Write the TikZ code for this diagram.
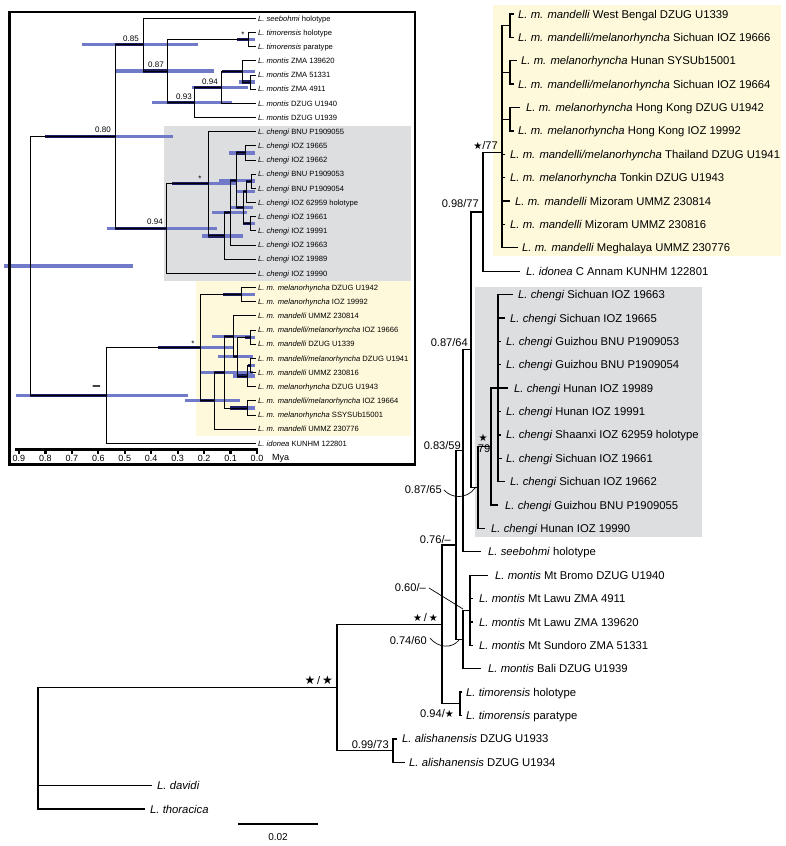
\documentclass[tikz,border=0pt]{standalone}
\usepackage{fontspec}
\setmainfont{Liberation Sans}
\newfontfamily\djv{DejaVu Sans}
\definecolor{yel}{RGB}{254,249,218}
\definecolor{gry}{RGB}{221,222,224}
\definecolor{hpdc}{RGB}{112,122,200}
\definecolor{navy}{RGB}{28,30,100}
\newcommand\stsym{{\djv\fontsize{10}{10}\selectfont ★}}
\newcommand\bigst{{\djv\fontsize{12}{12}\selectfont ★}}
\newcommand\hpd[5]{\draw[hpdbar] (#2,#1) -- (#3,#1); \draw[hpdnavy] ({max(#2,#4)},#1) -- (#5,#1);}
\tikzset{
  br/.style={line width=1.3pt},
  ib/.style={line width=0.9pt},
  hpdbar/.style={line width=3.2pt, draw=hpdc},
  hpdnavy/.style={line width=3.2pt, draw=navy},
  lab/.style={font=\fontsize{11.3}{13}\selectfont, anchor=west, inner sep=0pt, text height=8.3pt, text depth=0.3pt},
  suplab/.style={font=\fontsize{11.1}{13}\selectfont, anchor=east, inner sep=0pt, text height=8.3pt, text depth=0.3pt},
  ilab/.style={font=\fontsize{7.6}{9}\selectfont, anchor=west, inner sep=0pt, text height=5.6pt, text depth=0.2pt},
  isup/.style={font=\fontsize{8}{9}\selectfont, inner sep=0pt, text height=5.8pt, text depth=0.2pt},
  thin/.style={line width=0.7pt}
}
\begin{document}
\begin{tikzpicture}[x=1pt,y=-1pt]
\useasboundingbox (0,0) rectangle (786,846);
% ---------------- main tree backgrounds
\fill[yel] (493,5) rectangle (781,256);
\fill[gry] (475,287) rectangle (702,537);
% ---------------- main tree nodes
\coordinate (N12) at (510,25.7);
\coordinate (N34) at (510,72.5);
\coordinate (N56) at (510,119.2);
\coordinate (Nmand) at (502,152.8);
\coordinate (Nmi) at (483,212.0);
\coordinate (Cc) at (498,388.1);
\coordinate (Bb) at (491,446.6);
\coordinate (Aa) at (478,487.5);
\coordinate (Nmic) at (471,349.8);
\coordinate (Dd) at (463,450.8);
\coordinate (Gg) at (470,610.3);
\coordinate (Ff) at (463,639.5);
\coordinate (Ee) at (456,545.1);
\coordinate (Tt) at (460,703.8);
\coordinate (Hh) at (442,624.5);
\coordinate (Kk) at (393,750.6);
\coordinate (Ii) at (337,687.5);
\coordinate (Rr) at (38,748);
% tips
\coordinate (t1) at (514,14.0);
\coordinate (t2) at (514,37.4);
\coordinate (t3) at (517,60.8);
\coordinate (t4) at (514,84.1);
\coordinate (t5) at (520,107.5);
\coordinate (t6) at (514,130.9);
\coordinate (t7) at (505,154.3);
\coordinate (t8) at (505,177.7);
\coordinate (t9) at (510,201.0);
\coordinate (t10) at (505,224.4);
\coordinate (t11) at (518,247.8);
\coordinate (t12) at (520,271.2);
\coordinate (t13) at (513,294.6);
\coordinate (t14) at (505,318.0);
\coordinate (t15) at (501,341.3);
\coordinate (t16) at (501,364.7);
\coordinate (t17) at (508,388.1);
\coordinate (t18) at (501,411.5);
\coordinate (t19) at (501,434.9);
\coordinate (t20) at (502,458.3);
\coordinate (t21) at (505,481.6);
\coordinate (t22) at (498,505.0);
\coordinate (t23) at (485,528.4);
\coordinate (t24) at (481,551.8);
\coordinate (t25) at (488,575.2);
\coordinate (t26) at (473,598.6);
\coordinate (t27) at (473,622.0);
\coordinate (t28) at (473,645.3);
\coordinate (t29) at (481,668.7);
\coordinate (t30) at (462,692.1);
\coordinate (t31) at (462,715.5);
\coordinate (t32) at (397,738.9);
\coordinate (t33) at (405,762.3);
\coordinate (t34) at (152,785.6);
\coordinate (t35) at (145,809.0);
\foreach \p/\c in {N12/t1,N12/t2,N34/t3,N34/t4,N56/t5,N56/t6,
  Nmand/N12,Nmand/N34,Nmand/N56,Nmand/t7,Nmand/t8,Nmand/t9,Nmand/t10,Nmand/t11,
  Nmi/Nmand,Nmi/t12,
  Cc/t13,Cc/t14,Cc/t15,Cc/t16,Cc/t17,Cc/t18,Cc/t19,Cc/t20,Cc/t21,
  Bb/Cc,Bb/t22,Aa/Bb,Aa/t23,Nmic/Nmi,Nmic/Aa,Dd/Nmic,Dd/t24,
  Gg/t25,Gg/t26,Gg/t27,Gg/t28,Ff/Gg,Ff/t29,Ee/Dd,Ee/Ff,
  Tt/t30,Tt/t31,Hh/Ee,Hh/Tt,Kk/t32,Kk/t33,Ii/Hh,Ii/Kk,Rr/Ii,Rr/t34,Rr/t35}
  \draw[br] (\p) |- (\c);
% labels
\node[lab] (l1) at (518,14.0) {\textit{L. m. mandelli} West Bengal DZUG U1339};
\node[lab] (l2) at (518,37.4) {\textit{L. m. mandelli/melanorhyncha} Sichuan IOZ 19666};
\node[lab] (l3) at (521,60.8) {\textit{L. m. melanorhyncha} Hunan SYSUb15001};
\node[lab] (l4) at (518,84.1) {\textit{L. m. mandelli/melanorhyncha} Sichuan IOZ 19664};
\node[lab] (l5) at (526,107.5) {\textit{L. m. melanorhyncha} Hong Kong DZUG U1942};
\node[lab] (l6) at (518,130.9) {\textit{L. m. melanorhyncha} Hong Kong IOZ 19992};
\node[lab] (l7) at (510,154.3) {\textit{L. m. mandelli/melanorhyncha} Thailand DZUG U1941};
\node[lab] (l8) at (510,177.7) {\textit{L. m. melanorhyncha} Tonkin DZUG U1943};
\node[lab] (l9) at (515,201.0) {\textit{L. m. mandelli} Mizoram UMMZ 230814};
\node[lab] (l10) at (510,224.4) {\textit{L. m. mandelli} Mizoram UMMZ 230816};
\node[lab] (l11) at (522,247.8) {\textit{L. m. mandelli} Meghalaya UMMZ 230776};
\node[lab] (l12) at (526,271.2) {\textit{L. idonea} C Annam KUNHM 122801};
\node[lab] (l13) at (518,294.6) {\textit{L. chengi} Sichuan IOZ 19663};
\node[lab] (l14) at (510,318.0) {\textit{L. chengi} Sichuan IOZ 19665};
\node[lab] (l15) at (506,341.3) {\textit{L. chengi} Guizhou BNU P1909053};
\node[lab] (l16) at (506,364.7) {\textit{L. chengi} Guizhou BNU P1909054};
\node[lab] (l17) at (514,388.1) {\textit{L. chengi} Hunan IOZ 19989};
\node[lab] (l18) at (506,411.5) {\textit{L. chengi} Hunan IOZ 19991};
\node[lab] (l19) at (506,434.9) {\textit{L. chengi} Shaanxi IOZ 62959 holotype};
\node[lab] (l20) at (506,458.3) {\textit{L. chengi} Sichuan IOZ 19661};
\node[lab] (l21) at (510,481.6) {\textit{L. chengi} Sichuan IOZ 19662};
\node[lab] (l22) at (505,505.0) {\textit{L. chengi} Guizhou BNU P1909055};
\node[lab] (l23) at (491,528.4) {\textit{L. chengi} Hunan IOZ 19990};
\node[lab] (l24) at (488,551.8) {\textit{L. seebohmi} holotype};
\node[lab] (l25) at (495,575.2) {\textit{L. montis} Mt Bromo DZUG U1940};
\node[lab] (l26) at (479,598.6) {\textit{L. montis} Mt Lawu ZMA 4911};
\node[lab] (l27) at (479,622.0) {\textit{L. montis} Mt Lawu ZMA 139620};
\node[lab] (l28) at (479,645.3) {\textit{L. montis} Mt Sundoro ZMA 51331};
\node[lab] (l29) at (488,668.7) {\textit{L. montis} Bali DZUG U1939};
\node[lab] (l30) at (466,692.1) {\textit{L. timorensis} holotype};
\node[lab] (l31) at (466,715.5) {\textit{L. timorensis} paratype};
\node[lab] (l32) at (402,738.9) {\textit{L. alishanensis} DZUG U1933};
\node[lab] (l33) at (409,762.3) {\textit{L. alishanensis} DZUG U1934};
\node[lab] (l34) at (157,785.6) {\textit{L. davidi}};
\node[lab] (l35) at (150,809.0) {\textit{L. thoracica}};
% support values
\node[suplab] (s1) at (498,145) {\stsym/77};
\node[suplab] (s2) at (479,203) {0.98/77};
\node[suplab] (s3) at (468,342) {0.87/64};
\node[suplab,anchor=center] (s4a) at (483,437) {\stsym};
\node[suplab,anchor=center] (s4b) at (484,448) {79};
\node[suplab] (s5) at (461,445) {0.83/59};
\node[suplab] (s6) at (442,489) {0.87/65};
\node[suplab] (s7) at (451,539) {0.76/–};
\node[suplab] (s8) at (426,587) {0.60/–};
\node[suplab] (s9) at (438,617) {\stsym\,/\,\stsym};
\node[suplab] (s10) at (427,640) {0.74/60};
\node[suplab] (s11) at (454,713) {0.94/\stsym};
\node[suplab] (s12) at (389,744) {0.99/73};
\node[suplab] (s13) at (333,680) {\bigst\,/\,\bigst};
% callouts
\coordinate (c6a) at (444,490);
\coordinate (c6b) at (475,488);
\draw[thin] (c6a) .. controls (452,499) and (467,499) .. (c6b);
\coordinate (c10a) at (430,638);
\coordinate (c10b) at (459,640);
\draw[thin] (c10a) .. controls (438,648) and (452,649) .. (c10b);
\coordinate (c8a) at (429,588);
\coordinate (c8b) at (463,609);
\draw[thin] (c8a) -- (c8b);
% scale bar
\coordinate (sb1) at (238,824);
\coordinate (sb2) at (318,824);
\draw[line width=1.4pt] (sb1) -- (sb2);
\node[font=\fontsize{10}{11}\selectfont, inner sep=0pt] (sbl) at (278,837) {0.02};

% ---------------- inset
\fill[white] (9.5,12) rectangle (415,464.5);
\fill[gry] (164,126) rectangle (411,281);
\fill[yel] (196,281) rectangle (411,436);
% bars
\hpd{266.07}{4}{133}{30}{30}
\hpd{136.61}{45}{173}{30}{115}
\hpd{44.64}{82}{198}{115}{143}
\hpd{70.98}{115}{214}{143}{167}
\hpd{39.56}{237}{255}{167}{248}
\hpd{102.40}{152}{232}{167}{194}
\hpd{87.38}{192}{248}{194}{221}
\hpd{71.44}{222}{255}{221}{242}
\hpd{82.07}{239}{255}{242}{250}
\hpd{228.58}{107}{217}{115}{166}
\hpd{183.80}{172}{237}{166}{208}
\hpd{235.94}{202}{243}{208}{224}
\hpd{212.69}{212}{247}{224}{230}
\hpd{180.37}{219}{255}{230}{236}
\hpd{152.92}{229}{255}{236}{245}
\hpd{207.83}{230}{253}{236}{243}
\hpd{191.88}{236}{255}{243}{246}
\hpd{181.26}{246}{255}{246}{251}
\hpd{223.77}{243}{255}{243}{250}
\hpd{395.52}{16}{188}{30}{106}
\hpd{347.64}{158}{233}{106}{200}
\hpd{294.62}{223}{255}{200}{241}
\hpd{400.67}{185}{240}{200}{214}
\hpd{372.11}{200}{253}{214}{224}
\hpd{336.24}{212}{250}{224}{233}
\hpd{356.61}{218}{253}{233}{237}
\hpd{337.13}{245}{255}{237}{250}
\hpd{376.09}{233}{255}{237}{247}
\hpd{365.47}{248}{255}{247}{250}
\hpd{407.98}{230}{255}{224}{247}
% inset nodes
\coordinate (iroot) at (30,266.07);
\coordinate (i080) at (115,136.61);
\coordinate (i085) at (143,44.64);
\coordinate (i087) at (167,70.98);
\coordinate (itim) at (248,39.56);
\coordinate (i093) at (194,102.40);
\coordinate (i094) at (221,87.38);
\coordinate (im2) at (242,71.44);
\coordinate (im3) at (250,82.07);
\coordinate (c094) at (166,228.58);
\coordinate (cst) at (208,183.80);
\coordinate (ch) at (224,235.94);
\coordinate (cg) at (230,212.69);
\coordinate (cf) at (236,180.37);
\coordinate (ca) at (245,152.92);
\coordinate (ce) at (243,207.83);
\coordinate (cc) at (246,191.88);
\coordinate (cb) at (251,181.26);
\coordinate (cd) at (250,223.77);
\coordinate (ilow) at (106,395.52);
\coordinate (mst) at (200,347.64);
\coordinate (ma) at (241,294.62);
\coordinate (mi) at (214,400.67);
\coordinate (mh) at (224,372.11);
\coordinate (mf) at (233,336.24);
\coordinate (me) at (237,356.61);
\coordinate (mb) at (250,337.13);
\coordinate (md) at (247,376.09);
\coordinate (mc) at (250,365.47);
\coordinate (mg) at (247,407.98);
\foreach \i in {1,...,31} {\coordinate (L\i) at (256,{18.3+14.17*(\i-1)});}
\foreach \p/\c in {iroot/i080,iroot/ilow,i080/i085,i080/c094,i085/L1,i085/i087,
  i087/itim,i087/i093,itim/L2,itim/L3,i093/i094,i093/L8,i094/im2,i094/L7,
  im2/L4,im2/im3,im3/L5,im3/L6,
  c094/cst,c094/L19,cst/L9,cst/ch,ch/cg,ch/L18,cg/cf,cg/L17,cf/ca,cf/ce,
  ca/L10,ca/L11,ce/cc,ce/cd,cc/cb,cc/L14,cb/L12,cb/L13,cd/L15,cd/L16,
  ilow/mst,ilow/L31,mst/ma,mst/mi,ma/L20,ma/L21,mi/mh,mi/L30,mh/mf,mh/mg,
  mf/L22,mf/me,me/mb,me/md,mb/L23,mb/L24,md/mc,md/L27,mc/L25,mc/L26,mg/L28,mg/L29}
  \draw[ib] (\p) |- (\c);
% inset labels
\node[ilab] (il1) at (258,18.30) {\textit{L. seebohmi} holotype};
\node[ilab] (il2) at (258,32.47) {\textit{L. timorensis} holotype};
\node[ilab] (il3) at (258,46.64) {\textit{L. timorensis} paratype};
\node[ilab] (il4) at (258,60.81) {\textit{L. montis} ZMA 139620};
\node[ilab] (il5) at (258,74.98) {\textit{L. montis} ZMA 51331};
\node[ilab] (il6) at (258,89.15) {\textit{L. montis} ZMA 4911};
\node[ilab] (il7) at (258,103.32) {\textit{L. montis} DZUG U1940};
\node[ilab] (il8) at (258,117.49) {\textit{L. montis} DZUG U1939};
\node[ilab] (il9) at (258,131.66) {\textit{L. chengi} BNU P1909055};
\node[ilab] (il10) at (258,145.83) {\textit{L. chengi} IOZ 19665};
\node[ilab] (il11) at (258,160.00) {\textit{L. chengi} IOZ 19662};
\node[ilab] (il12) at (258,174.17) {\textit{L. chengi} BNU P1909053};
\node[ilab] (il13) at (258,188.34) {\textit{L. chengi} BNU P1909054};
\node[ilab] (il14) at (258,202.51) {\textit{L. chengi} IOZ 62959 holotype};
\node[ilab] (il15) at (258,216.68) {\textit{L. chengi} IOZ 19661};
\node[ilab] (il16) at (258,230.85) {\textit{L. chengi} IOZ 19991};
\node[ilab] (il17) at (258,245.02) {\textit{L. chengi} IOZ 19663};
\node[ilab] (il18) at (258,259.19) {\textit{L. chengi} IOZ 19989};
\node[ilab] (il19) at (258,273.36) {\textit{L. chengi} IOZ 19990};
\node[ilab] (il20) at (258,287.53) {\textit{L. m. melanorhyncha} DZUG U1942};
\node[ilab] (il21) at (258,301.70) {\textit{L. m. melanorhyncha} IOZ 19992};
\node[ilab] (il22) at (258,315.87) {\textit{L. m. mandelli} UMMZ 230814};
\node[ilab] (il23) at (258,330.04) {\textit{L. m. mandelli/melanorhyncha} IOZ 19666};
\node[ilab] (il24) at (258,344.21) {\textit{L. m. mandelli} DZUG U1339};
\node[ilab] (il25) at (258,358.38) {\textit{L. m. mandelli/melanorhyncha} DZUG U1941};
\node[ilab] (il26) at (258,372.55) {\textit{L. m. mandelli} UMMZ 230816};
\node[ilab] (il27) at (258,386.72) {\textit{L. m. melanorhyncha} DZUG U1943};
\node[ilab] (il28) at (258,400.89) {\textit{L. m. mandelli/melanorhyncha} IOZ 19664};
\node[ilab] (il29) at (258,415.06) {\textit{L. m. melanorhyncha} SSYSUb15001};
\node[ilab] (il30) at (258,429.23) {\textit{L. m. mandelli} UMMZ 230776};
\node[ilab] (il31) at (258,443.40) {\textit{L. idonea} KUNHM 122801};
% inset supports
\node[isup] (is1) at (131,39) {0.85};
\node[isup] (is2) at (156,65) {0.87};
\node[isup] (is3) at (184,97) {0.93};
\node[isup] (is4) at (210,82) {0.94};
\node[isup] (is5) at (103,130) {0.80};
\node[isup] (is6) at (155,222) {0.94};
\node[isup,anchor=base] (is7) at (243,37.6) {*};
\node[isup,anchor=base] (is8) at (200,181.4) {*};
\node[isup,anchor=base] (is9) at (193,346.3) {*};
\node[isup,font=\fontsize{15}{15}\selectfont\bfseries,text height=4pt] (is10) at (96.5,389) {–};
% axis
\coordinate (ax1) at (15,449.5);
\coordinate (ax2) at (258,449.5);
\draw[line width=3.6pt] (ax1) -- (ax2);
\foreach \k in {0,...,9} {
  \draw[line width=2.2pt] ({257-26.45*\k},449.5) -- ({257-26.45*\k},454.3);
  \node[font=\fontsize{9}{10}\selectfont, inner sep=0pt] at ({257-26.45*\k},458.6) {0.\k};
}
\node[font=\fontsize{9}{10}\selectfont, inner sep=0pt, anchor=west] (mya) at (272,458.6) {Mya};
% frame
\draw[line width=2.6pt] (9.5,12) rectangle (415,464.5);
\end{tikzpicture}
\end{document}
